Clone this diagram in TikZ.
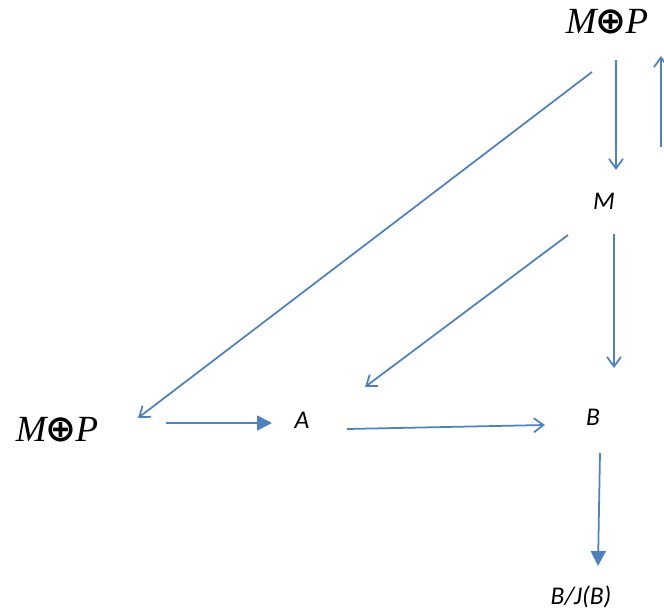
\documentclass[tikz,border=0pt]{standalone}
\usepackage{fontspec}
\newfontfamily\calib{Carlito}
\newfontfamily\tms{Liberation Serif}
\newfontfamily\dvs{DejaVu Sans}
\usetikzlibrary{arrows.meta}
\definecolor{arrblue}{HTML}{4F81BD}
\newcommand{\msum}{{\tms\itshape M}{\dvs\bfseries\kern-0.5pt⊕\kern-0.5pt}{\tms\itshape P}}

\begin{document}
\begin{tikzpicture}[x=0.02cm, y=-0.02cm,
  every node/.style={inner sep=0pt},
  big/.style={font=\fontsize{21}{24}\selectfont},
  lbl/.style={font=\calib\itshape\fontsize{14.5}{16}\selectfont},
  arrow/.style={arrblue, line width=1pt, -{Straight Barb[length=5.5pt, width=8pt]}},
  farrow/.style={arrblue, line width=1pt, -{Triangle[length=8.5pt, width=8.5pt]}}]

\useasboundingbox (0,0) rectangle (664,615);

\node[big] (ptop) at (607,22) {\msum};
\node[lbl] (m) at (604,201) {M};
\node[big] (pleft) at (57,430) {\msum};
\node[lbl] (a) at (302,420) {A};
\node[lbl] (b) at (593,417) {B};
\node[lbl] (bj) at (581,597) {B/J(B)};
\coordinate (edgelo) at (661,147);
\coordinate (edgehi) at (661,56);

\draw[arrow] ([shift={(-15,50)}]ptop.center) -- ([shift={(81,-12)}]pleft.center);
\draw[arrow] ([shift={(9,38)}]ptop.center) -- ([shift={(12,-31)}]m.center);
\draw[arrow] (edgelo) -- (edgehi);
\draw[arrow] ([shift={(-36,34)}]m.center) -- ([shift={(63,-33)}]a.center);
\draw[arrow] ([shift={(10,33)}]m.center) -- ([shift={(21,-49)}]b.center);
\draw[farrow] ([shift={(109,-7)}]pleft.center) -- ([shift={(-30,3)}]a.center);
\draw[arrow] ([shift={(45,9)}]a.center) -- ([shift={(-48,8)}]b.center);
\draw[farrow] ([shift={(7,36)}]b.center) -- ([shift={(17,-31)}]bj.center);

\end{tikzpicture}
\end{document}
